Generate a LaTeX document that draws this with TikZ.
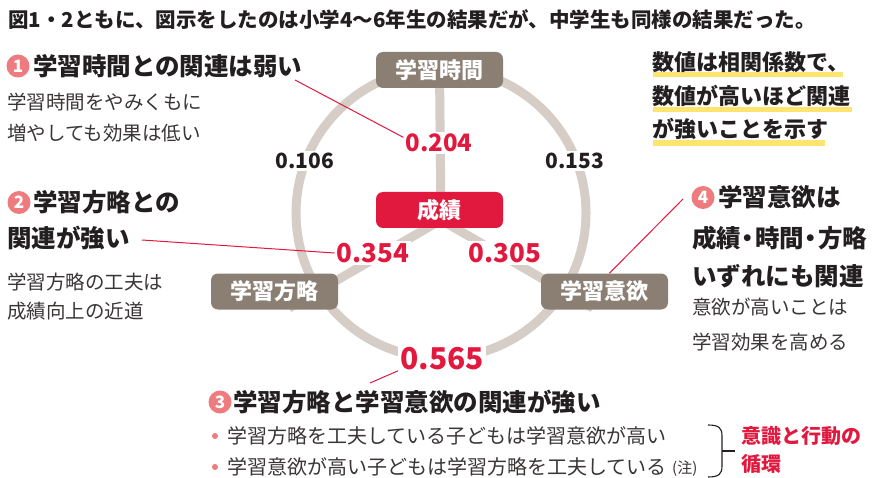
\documentclass[tikz,border=0pt]{standalone}
\usepackage{fontspec}
\setmainfont{Noto Sans CJK JP}
\usetikzlibrary{backgrounds}
\definecolor{ink}{HTML}{231F20}
\definecolor{body}{HTML}{3A3636}
\definecolor{accent}{HTML}{E2193F}
\definecolor{boxgray}{HTML}{8B7F74}
\definecolor{ringgray}{HTML}{D5CDC6}
\definecolor{pinkc}{HTML}{EE7B7D}
\definecolor{hlyellow}{HTML}{FFE46F}
\newcommand{\fsz}[1]{\fontsize{#1}{#1}\selectfont}
\newcommand{\ndot}{\makebox[14pt][c]{・}}
\begin{document}
\begin{tikzpicture}[x=1pt,y=-1pt,
  head/.style={anchor=west,inner sep=0pt,text=ink,font=\fsz{24.5}\bfseries},
  subtxt/.style={anchor=west,inner sep=0pt,text=body,font=\fsz{19.5}},
  numc/.style={circle,fill=pinkc,text=white,inner sep=0pt,minimum size=23pt,font=\fsz{17}\bfseries},
  catbox/.style={rounded corners=7pt,fill=boxgray,text=white,minimum width=127pt,minimum height=36pt,inner sep=0pt,font=\fsz{22}\bfseries},
  val/.style={fill=white,inner sep=2pt},
  ringline/.style={draw=ringgray,line width=9pt,line join=round},
  lead/.style={draw=accent,line width=1pt},
  hl/.style={fill=hlyellow},
  bullet/.style={circle,fill=pinkc,minimum size=6pt,inner sep=0pt},
]
\useasboundingbox (0,0) rectangle (872,478);

% title
\node[anchor=west,inner sep=0pt,text=ink,font=\fsz{20.5}\bfseries] (title) at (8,20)
  {図1・2ともに、図示をしたのは小学4〜6年生の結果だが、中学生も同様の結果だった。};

% category boxes
\node[catbox] (tA) at (439.5,70) {学習時間};
\node[catbox,fill=accent] (tB) at (439.5,210) {成績};
\node[catbox] (tC) at (274.5,291.5) {学習方略};
\node[catbox] (tD) at (604.5,291.5) {学習意欲};

\coordinate (C) at (441,213);
\coordinate (S) at (441,220);
\coordinate (sL) at (289,308);
\coordinate (sR) at (593,308);

% values
\node[val,text=accent,font=\fsz{24}\bfseries] (v204) at (439,143) {0.204};
\node[val,text=ink,font=\fsz{21}\bfseries] (v106) at (305,161) {0.106};
\node[val,text=ink,font=\fsz{21}\bfseries] (v153) at (575,161) {0.153};
\node[val,text=accent,font=\fsz{26}\bfseries] (v354) at (373,253) {0.354};
\node[val,text=accent,font=\fsz{26}\bfseries] (v305) at (505,253) {0.305};
\node[val,text=accent,font=\fsz{30}\bfseries] (v565) at (442,359) {0.565};

\begin{scope}[on background layer]
  \fill[white] (0,0) rectangle (872,478);
  \draw[ringline] (C) circle[radius=145];
  \draw[ringline] (tA.center) -- (S) -- (sL);
  \draw[ringline] (S) -- (sR);
\end{scope}

% heading 1
\node[numc] (n1) at (18,66) {1};
\node[head] (h1) at (33,66) {学習時間との関連は弱い};
\node[subtxt] (s1a) at (7,102) {学習時間をやみくもに};
\node[subtxt] (s1b) at (7,133) {増やしても効果は低い};

% heading 2
\node[numc] (n2) at (19,202.5) {2};
\node[head] (h2a) at (33,202) {学習方略との};
\node[head] (h2b) at (7,238) {関連が強い};
\node[subtxt] (s2a) at (7,282) {学習方略の工夫は};
\node[subtxt] (s2b) at (7,311) {成績向上の近道};

% heading 4
\node[numc] (n4) at (703,197.5) {4};
\node[head] (h4a) at (718,197.5) {学習意欲は};
\node[head] (h4b) at (692,238) {成績\ndot 時間\ndot 方略};
\node[head] (h4c) at (692,276) {いずれにも関連};
\node[subtxt] (s4a) at (692,307.5) {意欲が高いことは};
\node[subtxt] (s4b) at (692,342) {学習効果を高める};

% note top right with highlights
\fill[hl] (653,72) rectangle (843,77);
\fill[hl] (653,107) rectangle (852,112);
\fill[hl] (653,140) rectangle (825,146);
\node[anchor=west,inner sep=0pt,text=ink,font=\fsz{22}\bfseries] (r1) at (652,62) {数値は相関係数で、};
\node[anchor=west,inner sep=0pt,text=ink,font=\fsz{22}\bfseries] (r2) at (652,96) {数値が高いほど関連};
\node[anchor=west,inner sep=0pt,text=ink,font=\fsz{22}\bfseries] (r3) at (652,129) {が強いことを示す};

% heading 3 and bullets
\node[numc] (n3) at (220,402) {3};
\node[head] (h3) at (233,402) {学習方略と学習意欲の関連が強い};
\node[bullet] (b1) at (215,436) {};
\node[bullet] (b2) at (215,467) {};
\node[anchor=west,inner sep=0pt,text=body,font=\fsz{20}] (t1) at (227,436) {学習方略を工夫している子どもは学習意欲が高い};
\node[anchor=west,inner sep=0pt,text=body,font=\fsz{20}] (t2) at (227,467) {学習意欲が高い子どもは学習方略を工夫している};
\node[anchor=west,inner sep=0pt,text=body,font=\fsz{15}] (note) at (672,469) {(注)};

% bracket
\draw[ink,line width=1.1pt] (708,425) .. controls (719,425) and (722,428) .. (722,436)
  -- (722,466) .. controls (722,474) and (719,477) .. (708,477);
\coordinate (bm) at (722,451);
\coordinate (be) at (735,451);
\draw[ink,line width=1.1pt] (bm) -- (be);
\node[anchor=west,inner sep=0pt,text=accent,font=\fsz{20}\bfseries] (c1) at (741,436) {意識と行動の};
\node[anchor=west,inner sep=0pt,text=accent,font=\fsz{20}\bfseries] (c2) at (741,464) {循環};

% leader lines
\coordinate (l1) at (295,80);
\coordinate (l2) at (142,240);
\coordinate (l3) at (370,383);
\coordinate (l4) at (683,199);
\draw[lead] (l1) -- (v204.171);
\draw[lead] (l2) -- (v354.west);
\draw[lead] (l3) -- (v565.195);
\draw[lead] (l4) -- (tD.75);
\end{tikzpicture}
\end{document}
